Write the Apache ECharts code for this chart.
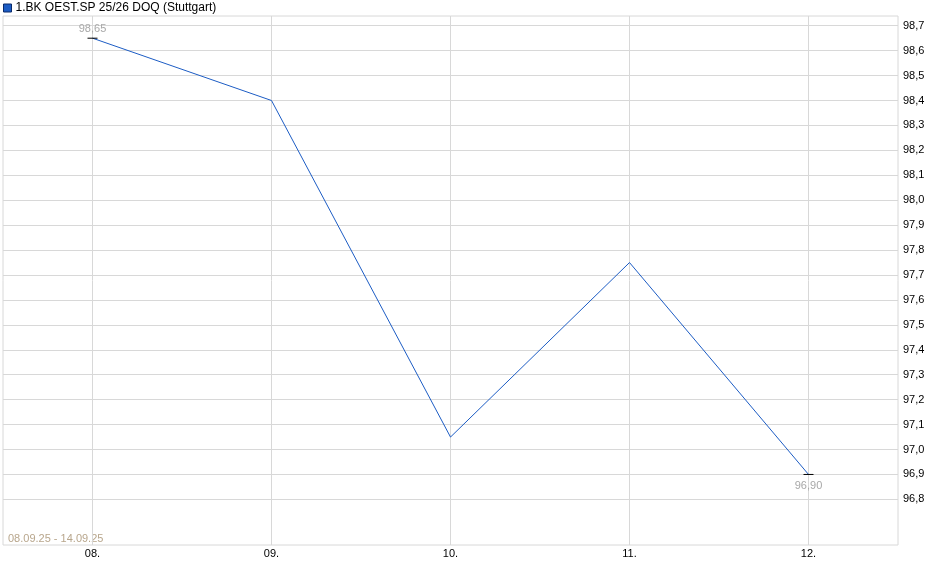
<!DOCTYPE html>
<html><head><meta charset="utf-8">
<script src="https://cdn.jsdelivr.net/npm/echarts@6/dist/echarts.min.js"></script>
<style>html,body{margin:0;padding:0;background:#fff}#c{width:940px;height:579px}</style>
</head><body><div id="c"></div>
<script>
var categories = ['08.', '09.', '10.', '11.', '12.'];
var values = [98.65, 98.40, 97.05, 97.75, 96.90];
var yTicks = [96.8, 96.9, 97.0, 97.1, 97.2, 97.3, 97.4, 97.5, 97.6, 97.7, 97.8, 97.9, 98.0, 98.1, 98.2, 98.3, 98.4, 98.5, 98.6, 98.7];
var seriesName = '1.BK OEST.SP 25/26 DOQ (Stuttgart)';
var dateRange = '08.09.25 - 14.09.25';

var chart = echarts.init(document.getElementById('c'), null, {renderer: 'canvas'});
var font = 'Liberation Sans, Arial, sans-serif';
var last = values.length - 1;
var data = values.map(function (v, i) {
  var d = {value: [i, v]};
  if (i === 0 || i === last) {
    d.symbol = 'rect';
    d.symbolSize = [10, 1];
    d.itemStyle = {color: '#000'};
    d.label = {show: true, position: i === 0 ? 'top' : 'bottom', distance: i === 0 ? 3 : 6,
      formatter: function (p) { return p.value[1].toFixed(2).replace('.', ','); },
      color: '#a8a8a8', fontSize: 11, fontFamily: font};
  }
  return d;
});
chart.setOption({
  animation: false,
  grid: {left: 3, right: 42, top: 16, bottom: 34, show: true, borderColor: '#d8d8d8', borderWidth: 1},
  legend: {show: true, left: 3, top: 2, padding: 0, itemWidth: 8, itemHeight: 8, itemGap: 4,
    icon: 'rect', textStyle: {fontSize: 12, fontFamily: font, color: '#000', padding: [0, 0, 0, -1]},
    data: [{name: seriesName, itemStyle: {color: '#1c5cc4', borderColor: '#0a2a6a', borderWidth: 1}}]},
  graphic: [{type: 'text', left: 8, top: 533,
    style: {text: dateRange, fill: '#b8a68c', fontSize: 11, fontFamily: font}}],
  xAxis: {type: 'value', min: -0.5, max: 4.5,
    axisLine: {show: false}, axisTick: {show: false, customValues: [0, 1, 2, 3, 4]},
    splitLine: {show: true, lineStyle: {color: '#d8d8d8', width: 1}},
    axisLabel: {customValues: [0, 1, 2, 3, 4], formatter: function (v) { return categories[Math.round(v)]; },
      color: '#000', fontSize: 11, fontFamily: font, margin: 3}},
  yAxis: {type: 'value', position: 'right', min: 96.617, max: 98.739,
    axisLine: {show: false}, axisTick: {show: false, customValues: yTicks},
    splitLine: {show: true, lineStyle: {color: '#d8d8d8', width: 1}},
    axisLabel: {customValues: yTicks, formatter: function (v) { return v.toFixed(1).replace('.', ','); },
      color: '#000', fontSize: 11, fontFamily: font, margin: 5}},
  series: [{name: seriesName, type: 'line', data: data, showSymbol: true, symbol: 'none',
    lineStyle: {color: '#1c5cc4', width: 1}, itemStyle: {color: '#1c5cc4'}}]
});
</script></body></html>
